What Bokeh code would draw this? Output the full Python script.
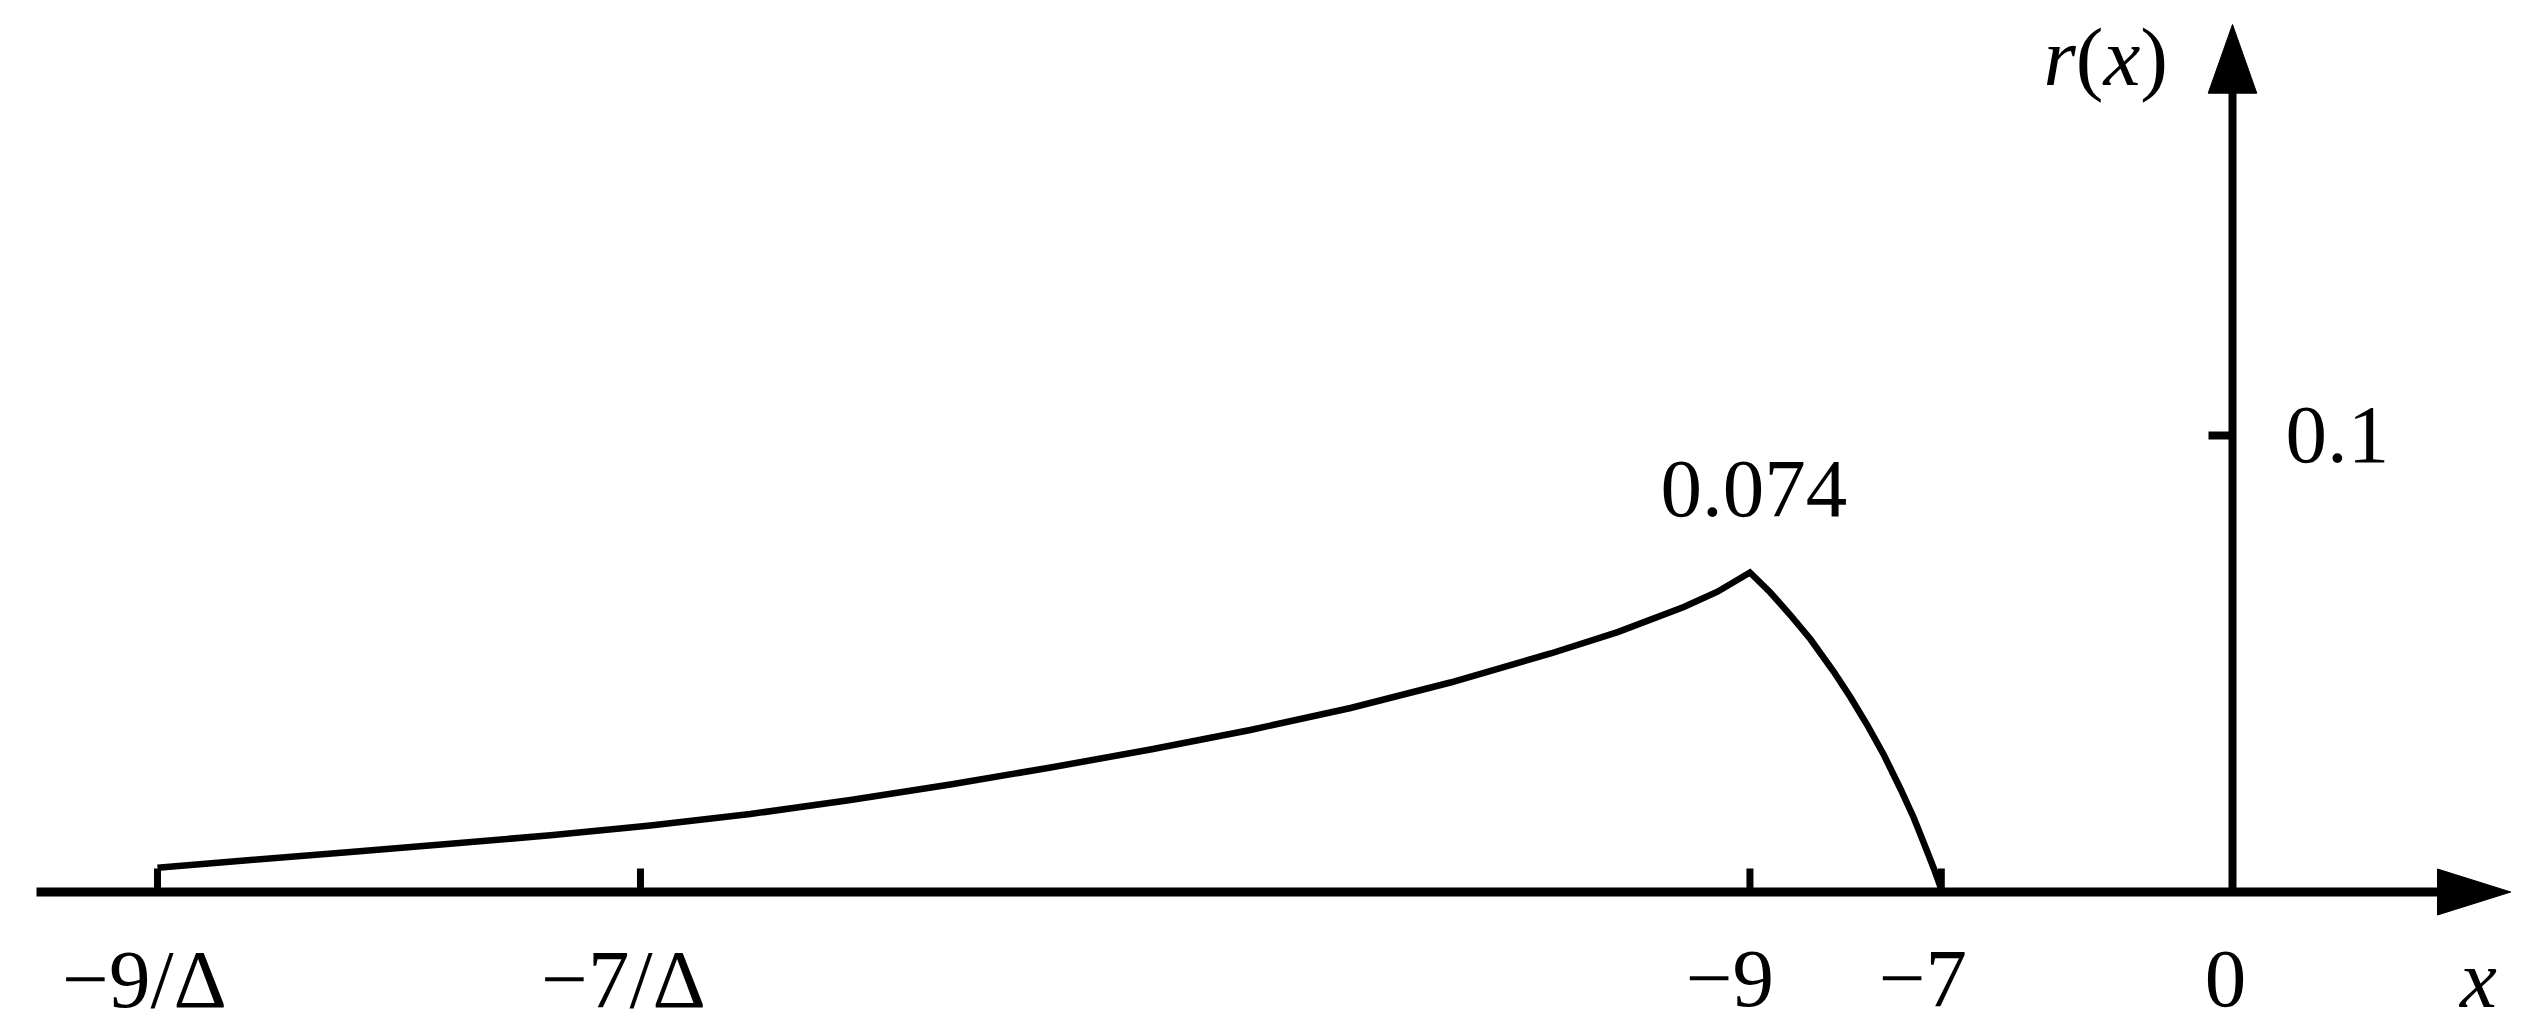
from bokeh.plotting import figure
from bokeh.models import Range1d
from bokeh.core.properties import value
from bokeh.embed import file_html
from bokeh.resources import INLINE

# ---------------- data (schematic horizontal position, r(x) vertical) ----------------
tick_labels = ["\u22129/\u0394", "\u22127/\u0394", "\u22129", "\u22127", "0"]
tick_pos = [-49.88, -38.27, -11.60, -7.0, 0.0]

curve_x = [-49.88, -47.64, -45.24, -42.84, -40.43, -38.03, -35.63, -33.22, -30.82,
           -28.41, -26.01, -23.61, -21.20, -18.80, -16.39, -14.78, -13.19, -12.38,
           -11.60,
           -11.11, -10.63, -10.14, -9.58, -9.18, -8.78, -8.38, -7.98,
           -7.66, -7.42, -7.18, -7.02, -7.0]
curve_y = [0.00530, 0.00701, 0.00876, 0.01058, 0.01242, 0.01457, 0.01709, 0.02015, 0.02355,
           0.02727, 0.03122, 0.03549, 0.04031, 0.04589, 0.05225, 0.05693, 0.06243, 0.06578,
           0.06999,
           0.06561, 0.06068, 0.05531, 0.04819, 0.04261, 0.03658, 0.03001, 0.02256,
           0.01621, 0.01073, 0.00515, 0.00110, 0.0]

y_tick_values = [0.1]
y_tick_labels = ["0.1"]
peak_label = "0.074"
x_label = "x"
y_label_parts = ["r", "(", "x", ")"]
y_label_styles = ["italic", "normal", "italic", "normal"]

# ---------------- layout ----------------
W, H = 2516, 1011
X0, Y0 = 2232.0, 891.5      # pixel of the origin
SX, SY = 41.6, 4565.0        # pixels per data unit
TXT_FIX = 29                 # baseline correction for text rendering (px)


def dx(px):
    return px / SX


def dy(px):
    return px / SY


def ty(baseline_px):
    """data y for a text whose baseline should be at pixel row baseline_px"""
    return (Y0 - baseline_px + TXT_FIX) / SY


p = figure(width=W, height=H, output_backend="svg", toolbar_location=None,
           x_axis_type=None, y_axis_type=None,
           x_range=Range1d(-X0 / SX, (W - X0) / SX),
           y_range=Range1d((Y0 - H) / SY, Y0 / SY),
           min_border=0)
p.min_border_left = p.min_border_right = p.min_border_top = p.min_border_bottom = 0
p.grid.visible = False
p.outline_line_color = None
p.background_fill_color = "white"
p.border_fill_color = "white"

FONT = value("Liberation Serif")
FS = "83px"

# axes
x_axis_start = dx(36 - X0)
x_arrow_base, x_arrow_tip, x_arrow_half = dx(205), dx(278.3), dy(23)
y_arrow_base, y_arrow_tip, y_arrow_half = dy(798.8), dy(867.5), dx(24.3)

p.segment(x0=[x_axis_start], y0=[0], x1=[x_arrow_base + dx(3)], y1=[0],
          line_color="black", line_width=9, line_cap="butt")
p.segment(x0=[0], y0=[0], x1=[0], y1=[y_arrow_base + dy(3)],
          line_color="black", line_width=8, line_cap="butt")

# arrow heads
p.patch(x=[x_arrow_base, x_arrow_tip, x_arrow_base],
        y=[x_arrow_half, 0, -x_arrow_half], fill_color="black", line_color="black", line_width=1)
p.patch(x=[-y_arrow_half, 0, y_arrow_half],
        y=[y_arrow_base, y_arrow_tip, y_arrow_base], fill_color="black", line_color="black", line_width=1)

# ticks
tick_len = dy(23.5)
n = len(tick_pos) - 1
p.segment(x0=tick_pos[:-1], y0=[0] * n, x1=tick_pos[:-1], y1=[tick_len] * n,
          line_color="black", line_width=7, line_cap="butt")
p.segment(x0=[-dx(24)] * len(y_tick_values), y0=y_tick_values, x1=[0] * len(y_tick_values),
          y1=y_tick_values, line_color="black", line_width=8, line_cap="butt")

# curve
p.line(curve_x, curve_y, line_color="black", line_width=6.5, line_join="miter")

# tick labels
label_offsets = [-13, -17, -20, -18.5, -7]
base_y = ty(1007.5)
p.text(x=[t + dx(o) for t, o in zip(tick_pos, label_offsets)], y=[base_y] * len(tick_pos),
       text=tick_labels, text_font=FONT, text_font_size=FS, text_align="center",
       text_baseline="alphabetic", text_color="black")

# x label
p.text(x=[dx(2478 - X0)], y=[base_y], text=[x_label], text_font=FONT, text_font_size=FS,
       text_font_style="italic", text_align="center", text_baseline="alphabetic",
       text_color="black")

# y tick label (baseline 28 px below the tick)
p.text(x=[dx(53)] * len(y_tick_values),
       y=[v + dy(TXT_FIX - 28) for v in y_tick_values],
       text=y_tick_labels, text_font=FONT, text_font_size=FS, text_align="left",
       text_baseline="alphabetic", text_color="black")

# peak label (baseline above the peak)
pk = curve_y.index(max(curve_y))
p.text(x=[curve_x[pk] + dx(4)], y=[curve_y[pk] + dy(54 + TXT_FIX)], text=[peak_label],
       text_font=FONT, text_font_size=FS, text_align="center", text_baseline="alphabetic",
       text_color="black")

# y label r(x), piecewise to mix italic / upright
y_label_px = [2043, 2075.3, 2102.9, 2139.8]
for part, style, xp in zip(y_label_parts, y_label_styles, y_label_px):
    p.text(x=[dx(xp - X0)], y=[ty(85)], text=[part], text_font=FONT,
           text_font_size=FS, text_font_style=style, text_align="left",
           text_baseline="alphabetic", text_color="black")

open("out.html", "w").write(file_html(p, INLINE))
